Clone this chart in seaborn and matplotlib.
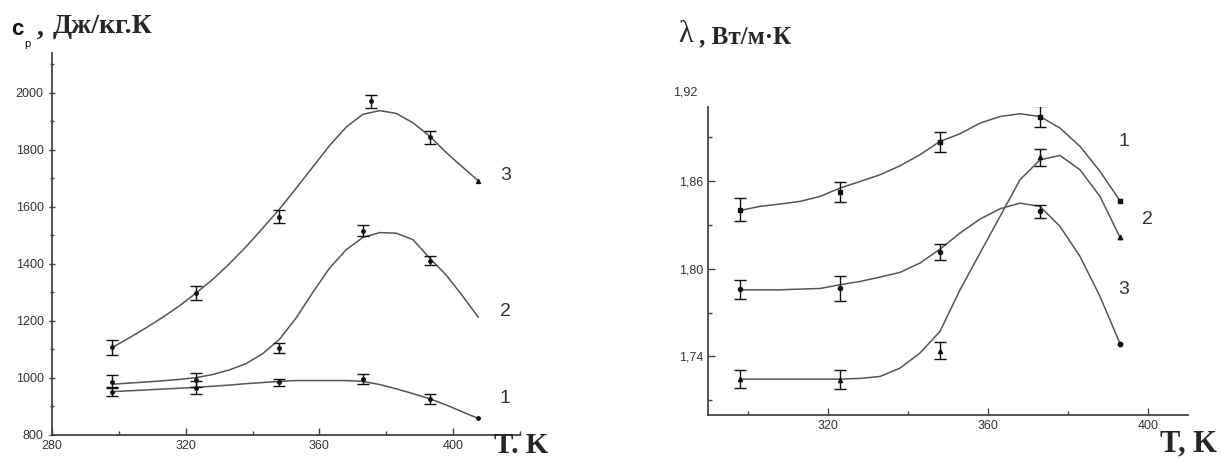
import matplotlib
matplotlib.use("Agg")
import matplotlib.pyplot as plt
from matplotlib.ticker import MultipleLocator, FuncFormatter
import seaborn as sns

# ---- left chart: heat capacity c_p (J/kg.K) ----
T_cp = [298, 323, 348, 373, 393]
T_cp3 = [298, 323, 348, 375.5, 393]
cp1 = [952, 966, 985, 996, 925]
cp1_err = [15, 22, 13, 18, 18]
cp2 = [987, 993, 1104, 1517, 1412]
cp2_err = [22, 25, 18, 19, 17]
cp3 = [1107, 1297, 1566, 1970, 1844]
cp3_err = [25, 25, 23, 23, 23]

# fitted curves
T_cp_fit = [298, 303, 308, 313, 318, 323, 328, 333, 338, 343, 348, 353,
            358, 363, 368, 373, 378, 383, 388, 393, 398, 403, 407.5]
cp1_fit = [952, 955, 958, 961, 964, 967, 971, 975, 980, 984, 988, 991,
           991, 991, 991, 988, 977, 962, 945, 927, 905, 880, 858]
cp2_fit = [978, 982, 986, 990, 995, 1001, 1012, 1028, 1050, 1085, 1135, 1210,
           1300, 1385, 1450, 1493, 1510, 1508, 1485, 1420, 1360, 1285, 1213]
cp3_fit = [1107, 1140, 1175, 1212, 1252, 1297, 1345, 1400, 1460, 1525, 1592, 1665,
           1740, 1815, 1880, 1925, 1938, 1928, 1895, 1848, 1790, 1738, 1692]

# ---- right chart: thermal conductivity lambda (W/m.K) ----
T_lam = [298, 323, 348, 373]
lam1 = [1.8402, 1.8523, 1.8864, 1.9039]
lam1_err = [0.0079, 0.0070, 0.0070, 0.0070]
lam2 = [1.7245, 1.7241, 1.7439, 1.8759]
lam2_err = [0.0060, 0.0063, 0.0057, 0.0060]
lam3 = [1.7860, 1.7865, 1.8113, 1.8391]
lam3_err = [0.0065, 0.0084, 0.0057, 0.0043]
T_lam_end = 393
lam_end = [1.8463, 1.8213, 1.7487]

T_lam_fit = [298, 303, 308, 313, 318, 323, 328, 333, 338, 343, 348, 353,
             358, 363, 368, 373, 378, 383, 388, 393]
lam1_fit = [1.8397, 1.8425, 1.8441, 1.8459, 1.8493, 1.8550, 1.8595, 1.8641, 1.8702, 1.8778,
            1.8869, 1.8921, 1.8994, 1.9039, 1.9058, 1.9039, 1.8960, 1.8835, 1.8664, 1.8463]
lam2_fit = [1.7245, 1.7245, 1.7245, 1.7245, 1.7245, 1.7245, 1.7250, 1.7263, 1.7320, 1.7423,
            1.7571, 1.7855, 1.8106, 1.8356, 1.8607, 1.8743, 1.8773, 1.8675, 1.8493, 1.8213]
lam3_fit = [1.7855, 1.7855, 1.7855, 1.7860, 1.7864, 1.7890, 1.7912, 1.7942, 1.7974, 1.8038,
            1.8133, 1.8243, 1.8338, 1.8409, 1.8447, 1.8425, 1.8288, 1.8083, 1.7810, 1.7487]

sns.set_style("ticks")
plt.rcParams["font.family"] = ["Liberation Sans", "DejaVu Sans"]

line_c = "#555555"
mark_c = "#111111"
axis_c = "#444444"
text_c = "#333333"

fig = plt.figure(figsize=(12.23, 4.59), dpi=100)
ax1 = fig.add_axes([0.0425, 0.0523, 0.3827, 0.8322])
ax2 = fig.add_axes([0.5789, 0.0959, 0.3925, 0.6710])

# left chart
for fit in [cp1_fit, cp2_fit, cp3_fit]:
    sns.lineplot(x=T_cp_fit, y=fit, ax=ax1, color=line_c, lw=1.1)
for T, vals, err in [(T_cp, cp1, cp1_err), (T_cp, cp2, cp2_err), (T_cp3, cp3, cp3_err)]:
    ax1.errorbar(T, vals, yerr=err, fmt="o", ms=2.5, color=mark_c,
                 elinewidth=1, capsize=4, capthick=1)
ax1.scatter([T_cp_fit[-1]], [cp1_fit[-1]], s=6, color=mark_c, zorder=3)
ax1.scatter([T_cp_fit[-1]], [cp3_fit[-1]], s=8, marker="^", color=mark_c, zorder=3)

ax1.set_xlim(280, 420)
ax1.set_ylim(800, 2140)
ax1.xaxis.set_major_locator(MultipleLocator(40))
ax1.xaxis.set_minor_locator(MultipleLocator(20))
ax1.yaxis.set_major_locator(MultipleLocator(200))
ax1.yaxis.set_minor_locator(MultipleLocator(100))
ax1.tick_params(axis="x", which="both", direction="in")
ax1.tick_params(axis="y", which="both", direction="inout")

for lbl, x, y in [("3", 414, 1712), ("2", 414, 1233), ("1", 414, 929)]:
    ax1.text(x, y, lbl, fontsize=14, color=text_c, va="center")

# right chart
for fit in [lam1_fit, lam2_fit, lam3_fit]:
    sns.lineplot(x=T_lam_fit, y=fit, ax=ax2, color=line_c, lw=1.1)
for vals, err, mk in [(lam1, lam1_err, "s"), (lam2, lam2_err, "^"), (lam3, lam3_err, "o")]:
    ax2.errorbar(T_lam, vals, yerr=err, fmt=mk, ms=3, color=mark_c,
                 elinewidth=1, capsize=4, capthick=1)
for v, mk in zip(lam_end, ["s", "^", "o"]):
    ax2.scatter([T_lam_end], [v], s=10, marker=mk, color=mark_c, zorder=3)

ax2.set_xlim(290, 410)
ax2.set_ylim(1.70, 1.9104)
ax2.xaxis.set_major_locator(MultipleLocator(40))
ax2.xaxis.set_minor_locator(MultipleLocator(20))
ax2.yaxis.set_major_locator(MultipleLocator(0.06))
ax2.yaxis.set_minor_locator(MultipleLocator(0.03))
ax2.yaxis.set_major_formatter(FuncFormatter(lambda v, p: f"{v:.2f}".replace(".", ",")))
ax2.tick_params(axis="both", which="both", direction="in")
# the 1,92 label sits above the end of the axis line, without a tick
ax2.text(-0.022, 1.92, "1,92", transform=ax2.get_yaxis_transform(), ha="right",
         va="center", fontsize=9, color=text_c, clip_on=False)

for lbl, x, y in [("1", 392.5, 1.887), ("2", 398.5, 1.8334), ("3", 392.5, 1.7855)]:
    ax2.text(x, y, lbl, fontsize=14, color=text_c, va="center")

for ax in [ax1, ax2]:
    sns.despine(ax=ax)
    for s in ["left", "bottom"]:
        ax.spines[s].set_color(axis_c)
        ax.spines[s].set_linewidth(1.3)
    ax.tick_params(which="major", length=5, width=1, color=axis_c,
                   labelsize=9, labelcolor=text_c)
    ax.tick_params(which="minor", length=3, width=1, color=axis_c)
    ax.set_xlabel("")
    ax.set_ylabel("")

W, H = 1223.0, 459.0
serif = ["Liberation Serif", "DejaVu Serif"]
fig.text(11 / W, 1 - 35 / H, "c", fontsize=16, fontweight="bold", color="#111111")
fig.text(24 / W, 1 - 47 / H, "p", fontsize=8, color="#111111")
fig.text(37 / W, 1 - 35 / H, ",", fontsize=20, fontweight="bold", family=serif)
fig.text(53 / W, 1 - 33 / H, "Дж/кг.К", fontsize=20, fontweight="bold", family=serif)
fig.text(494 / W, 1 - 453 / H, "T. K", fontsize=21, fontweight="bold", family=serif)

fig.text(678 / W, 1 - 42 / H, "λ", fontsize=22, family=serif)
fig.text(699 / W, 1 - 43 / H, ", Вт/м·К", fontsize=18, fontweight="bold", family=serif)
fig.text(1160 / W, 1 - 451 / H, "T, K", fontsize=22, fontweight="bold", family=serif)

fig.savefig("out.png", dpi=100, facecolor="white")
